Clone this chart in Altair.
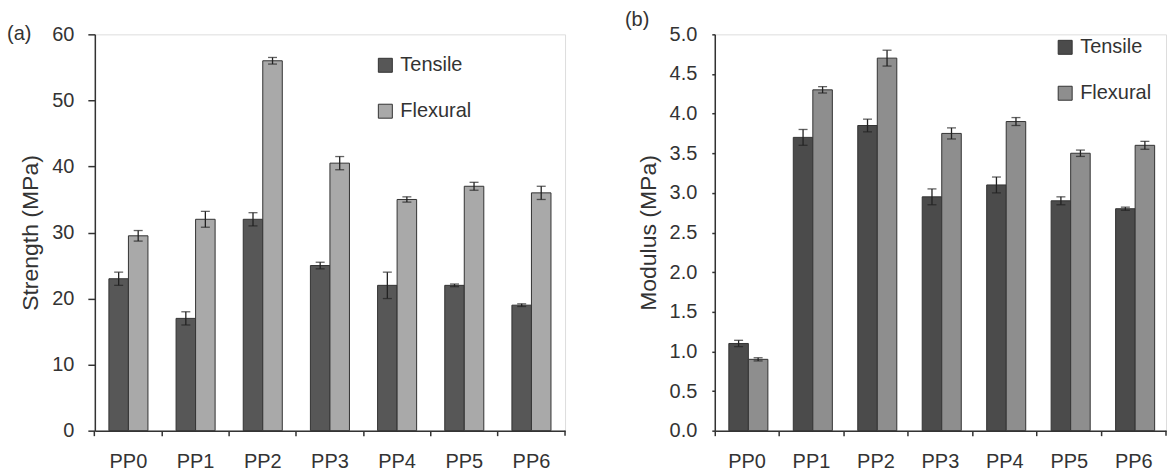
import altair as alt
import pandas as pd

categories = ["PP0", "PP1", "PP2", "PP3", "PP4", "PP5", "PP6"]
series = ["Tensile", "Flexural"]

strength_tensile = [23, 17, 32, 25, 22, 22, 19]
strength_tensile_err = [1.0, 1.0, 1.0, 0.5, 2.0, 0.2, 0.2]
strength_flexural = [29.5, 32, 56, 40.5, 35, 37, 36]
strength_flexural_err = [0.8, 1.2, 0.5, 1.0, 0.4, 0.6, 1.0]

modulus_tensile = [1.1, 3.7, 3.85, 2.95, 3.1, 2.9, 2.8]
modulus_tensile_err = [0.04, 0.1, 0.08, 0.1, 0.1, 0.05, 0.02]
modulus_flexural = [0.9, 4.3, 4.7, 3.75, 3.9, 3.5, 3.6]
modulus_flexural_err = [0.02, 0.04, 0.1, 0.07, 0.05, 0.04, 0.05]

y_ticks_a = [0, 10, 20, 30, 40, 50, 60]
y_ticks_b = [0.0, 0.5, 1.0, 1.5, 2.0, 2.5, 3.0, 3.5, 4.0, 4.5, 5.0]

FONT = "Liberation Sans"
TXT = "#333333"
H = 397


def make_df(t, te, f, fe):
    rows = []
    for i, c in enumerate(categories):
        rows.append({"cat": c, "series": "Tensile", "val": t[i], "lo": t[i] - te[i], "hi": t[i] + te[i]})
        rows.append({"cat": c, "series": "Flexural", "val": f[i], "lo": f[i] - fe[i], "hi": f[i] + fe[i]})
    return pd.DataFrame(rows)


def panel(df, ytitle, domain, ticks, fmt, colors, width, legend_x, legend_y, label,
          label_x, label_y, ytick, ylabpad, ytitlepad):
    base = alt.Chart(df)
    xaxis = alt.Axis(bandPosition=0, labelAngle=0, labelFontSize=20, labelFont=FONT,
                     labelColor=TXT, labelPadding=16, tickSize=5, tickColor=TXT,
                     domainColor=TXT, domainWidth=1.5, tickWidth=1.5, grid=False)
    xscale = alt.Scale(paddingInner=0, paddingOuter=0)
    x = alt.X("cat:N", sort=categories, title=None, scale=xscale, axis=xaxis)
    xo = alt.XOffset("series:N", sort=series,
                     scale=alt.Scale(paddingOuter=0.72, paddingInner=0))
    yaxis = alt.Axis(values=ticks, format=fmt, labelFontSize=20, labelFont=FONT,
                     labelColor=TXT, labelPadding=ylabpad, tickSize=ytick, tickColor=TXT,
                     domainColor=TXT, domainWidth=1.5, tickWidth=1.5, grid=False,
                     titleFont=FONT, titleFontSize=23, titleFontWeight="normal",
                     titleColor=TXT, titlePadding=ytitlepad)
    yscale = alt.Scale(domain=domain, nice=False, zero=True)

    def yenc(field):
        return alt.Y(field, title=ytitle, scale=yscale, axis=yaxis)

    color = alt.Color("series:N", sort=series,
                      scale=alt.Scale(domain=series, range=colors),
                      legend=alt.Legend(title=None, orient="none", legendX=legend_x, legendY=legend_y,
                                        symbolType="square", symbolSize=196, symbolStrokeColor="#333333",
                                        symbolStrokeWidth=1, symbolOpacity=1, labelFontSize=20,
                                        labelFont=FONT, labelColor=TXT, rowPadding=26, labelOffset=5))
    bars = base.mark_bar(stroke="#333333", strokeWidth=1).encode(
        x=x, xOffset=xo, y=yenc("val:Q"), color=color)
    rule = base.mark_rule(color="#222222", strokeWidth=1.3).encode(
        x=x, xOffset=xo, y=yenc("lo:Q"), y2="hi:Q")
    cap_lo = base.mark_tick(color="#222222", size=9, thickness=1.3).encode(
        x=x, xOffset=xo, y=yenc("lo:Q"))
    cap_hi = base.mark_tick(color="#222222", size=9, thickness=1.3).encode(
        x=x, xOffset=xo, y=yenc("hi:Q"))
    lab = alt.Chart(pd.DataFrame({"t": [label]})).mark_text(
        font=FONT, fontSize=20, color=TXT, align="left", baseline="middle").encode(
        text="t:N", x=alt.value(label_x), y=alt.value(label_y))
    end_tick = alt.Chart(pd.DataFrame({"t": [label]})).mark_rule(color=TXT, strokeWidth=1.5).encode(
        x=alt.value(width), y=alt.value(H), y2=alt.value(H + 5))
    return alt.layer(bars, rule, cap_lo, cap_hi, lab, end_tick).properties(
        width=width, height=H).resolve_scale(color="independent")


df_a = make_df(strength_tensile, strength_tensile_err, strength_flexural, strength_flexural_err)
df_b = make_df(modulus_tensile, modulus_tensile_err, modulus_flexural, modulus_flexural_err)

pa = panel(df_a, "Strength (MPa)", [0, 60], y_ticks_a, "d", ["#575757", "#a9a9a9"], 471, 281, 21,
           "(a)", -88, 0, 7, 14, 9)
pb = panel(df_b, "Modulus (MPa)", [0, 5], y_ticks_b, ".1f", ["#4b4b4b", "#8e8e8e"], 452, 341, 3,
           "(b)", -90, -14, 3, 15, 9)

chart = alt.hconcat(pa, pb, spacing=57).resolve_scale(color="independent").properties(
    padding={"left": 6, "top": 9, "right": 0, "bottom": 0}
).configure_view(stroke=None).configure(background="white")

chart.save("out.html", embed_options={"renderer": "svg", "actions": False})
